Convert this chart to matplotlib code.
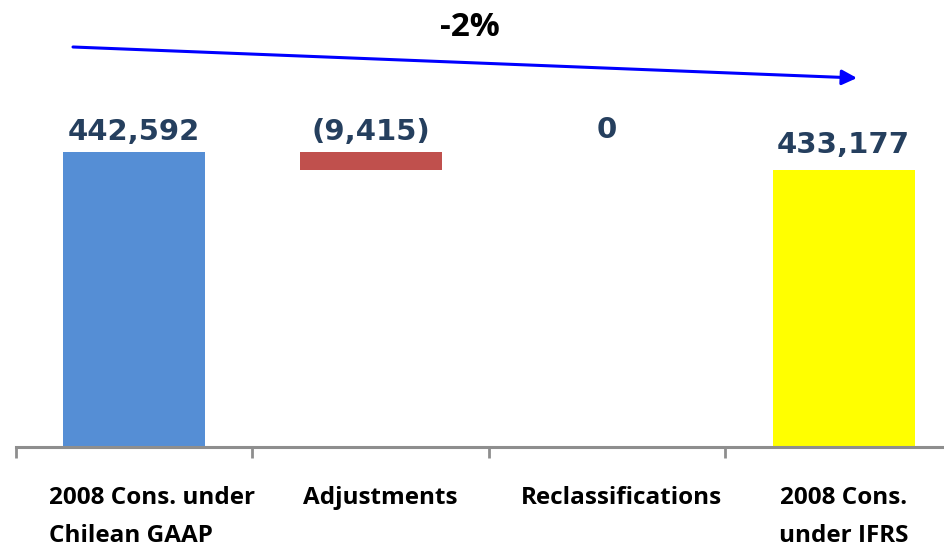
import numpy as np
from matplotlib import pyplot as plt

categories = ["2008 Cons. under\nChilean GAAP", "Adjustments", "Reclassifications", "2008 Cons.\nunder IFRS"]
start_value = 442592
adjustments = -9415
reclassifications = 0
end_value = 433177
value_labels = ["442,592", "(9,415)", "0", "433,177"]
change_label = "-2%"

colors = ["#558ED5", "#C0504D", "#FFFFFF", "#FFFF00"]
y_min, y_max = 288300, 522100

# waterfall bars: bottoms and heights from the running total
level_after_adj = start_value + adjustments
bottoms = [y_min, level_after_adj, level_after_adj + min(reclassifications, 0), y_min]
heights = [start_value - y_min, abs(adjustments), abs(reclassifications), end_value - y_min]
tops = [start_value, start_value, level_after_adj, end_value]

fig = plt.figure(figsize=(9.45, 5.47), dpi=100)
ax = fig.add_axes([16 / 945, 100 / 547, 929 / 945, 447 / 547])

x = np.arange(len(categories))
ax.bar(x, heights, bottom=bottoms, width=0.6, color=colors, zorder=2)

ax.set_xlim(-0.5, -0.5 + 929 / 236.5)
ax.set_ylim(y_min, y_max)

for s in ["top", "right", "left"]:
    ax.spines[s].set_visible(False)
ax.spines["bottom"].set_color("#8E8E8E")
ax.spines["bottom"].set_linewidth(2.2)
ax.set_yticks([])
ax.set_xticks(x)
ax.set_xticklabels([])
ax.tick_params(axis="x", which="major", length=0)
ax.set_xticks(np.arange(-0.5, 3.0, 1.0), minor=True)
ax.tick_params(axis="x", which="minor", length=8, width=2, color="#8E8E8E", direction="out")

# category labels under the axis
label_font = dict(family=["Open Sans", "DejaVu Sans"], fontweight="bold", fontsize=17.5, color="black")
label_x = [-0.36, 1.04, 2.06, 3.0]
ax.text(label_x[0], -0.088, categories[0], transform=ax.get_xaxis_transform(),
        ha="left", va="top", multialignment="left", linespacing=1.78, **label_font)
for i in range(1, 4):
    ax.text(label_x[i], -0.088, categories[i], transform=ax.get_xaxis_transform(),
            ha="center", va="top", multialignment="center", linespacing=1.78, **label_font)

# value labels above the bars
offsets = [4, 4, 19, 8]
for i in range(4):
    ax.annotate(value_labels[i], (x[i], tops[i]), xytext=(0, offsets[i]),
                textcoords="offset points", ha="center", va="bottom",
                fontsize=21, fontweight="bold", color="#253F5E", family="DejaVu Sans")

# overall change arrow
ax.annotate("", xy=(857 / 945, 1 - 78 / 547), xytext=(73 / 945, 1 - 47 / 547),
            xycoords="figure fraction", textcoords="figure fraction",
            arrowprops=dict(arrowstyle="-|>,head_length=0.9,head_width=0.45",
                            color="#0000FF", lw=2.2, shrinkA=0, shrinkB=0))
fig.text(470 / 945, 1 - 28 / 547, change_label, ha="center", va="center",
         fontsize=24, fontweight="bold", family=["Open Sans", "DejaVu Sans"])

plt.savefig("out.png", dpi=100)
plt.close()
